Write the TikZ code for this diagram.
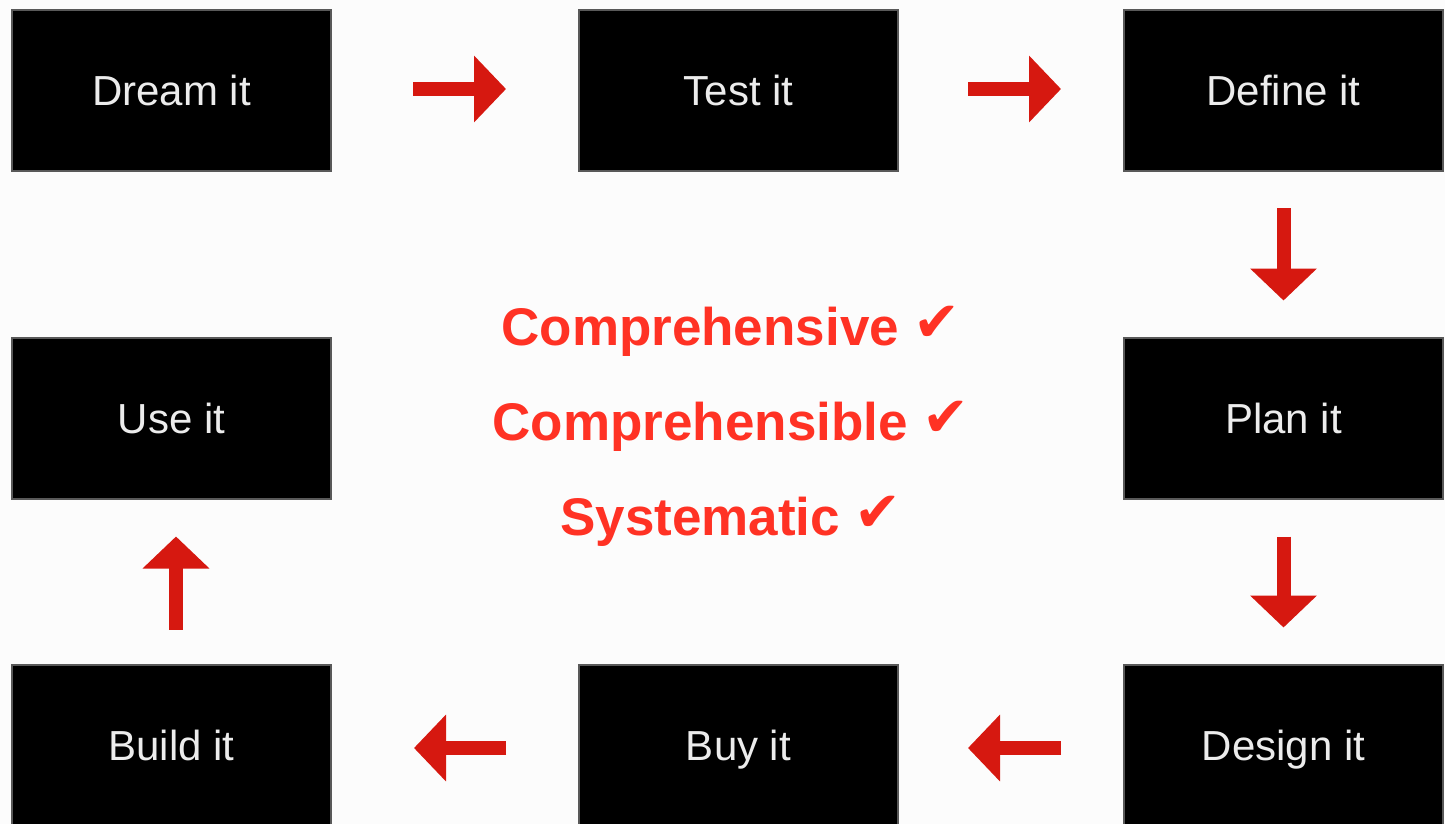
\documentclass[tikz,border=0pt]{standalone}
\usepackage{fontspec}
\setmainfont{Liberation Sans}
\newfontfamily\symfont{DejaVu Sans}
\usetikzlibrary{arrows.meta}
\definecolor{arrowred}{RGB}{214,24,16}
\definecolor{textred}{RGB}{255,50,36}
\definecolor{paper}{RGB}{252,252,252}
\definecolor{boxtext}{RGB}{236,236,236}
\tikzset{
  stage/.style={draw=gray!70!black, line width=2pt, fill=black,
    minimum width=319pt, minimum height=161pt, inner sep=0pt,
    text height=30pt, text depth=0pt,
    text=boxtext, font=\fontsize{42}{48}\selectfont},
  flow/.style={draw=arrowred, line width=14pt,
    -{Triangle[length=32pt,width=65pt,fill=arrowred]}},
  virtue/.style={anchor=base, text=textred, inner sep=0pt,
    font=\bfseries\fontsize{53}{60}\selectfont}
}
\newcommand{\tick}{\raisebox{4pt}{\symfont\fontsize{56}{60}\selectfont ✔}}
\begin{document}
\begin{tikzpicture}[x=1pt,y=-1pt]
  \useasboundingbox (0,0) rectangle (1445,824);
  \fill[paper] (0,0) rectangle (1445,824);
  \clip (0,0) rectangle (1445,824);

  % the eight stages, clockwise from the top left
  \node[stage] (dream)  at (171.5,90.5) {Dream it};
  \node[stage] (test)   at (738.5,90.5) {Test it};
  \node[stage] (define) at (1283.5,90.5) {Define it};
  \node[stage] (plan)   at (1283.5,418) {Plan it};
  \node[stage] (design) at (1283.5,745) {Design it};
  \node[stage] (buy)    at (738.5,745) {Buy it};
  \node[stage] (build)  at (171.5,745) {Build it};
  \node[stage] (use)    at (171.5,418) {Use it};

  % arrows between the stages
  \draw[flow] ([xshift=81pt,yshift=1.5pt]dream.east) -- ([xshift=-72pt,yshift=1.5pt]test.west);
  \draw[flow] ([xshift=69pt,yshift=1.5pt]test.east) -- ([xshift=-62pt,yshift=1.5pt]define.west);
  \draw[flow] ([yshift=-36pt]define.south) -- ([yshift=36pt]plan.north);
  \draw[flow] ([yshift=-37pt]plan.south) -- ([yshift=36pt]design.north);
  \draw[flow] ([xshift=-62pt,yshift=-3pt]design.west) -- ([xshift=69pt,yshift=-3pt]buy.east);
  \draw[flow] ([xshift=-72pt,yshift=-3pt]buy.west) -- ([xshift=82pt,yshift=-3pt]build.east);
  \draw[flow] ([xshift=4.5pt,yshift=34pt]build.north) -- ([xshift=4.5pt,yshift=-37pt]use.south);

  % qualities in the middle
  \node[virtue] (q1) at (731,345) {Comprehensive \tick};
  \node[virtue] (q2) at (731,440) {Comprehensible \tick};
  \node[virtue] (q3) at (731,535) {Systematic \tick};
\end{tikzpicture}
\end{document}
